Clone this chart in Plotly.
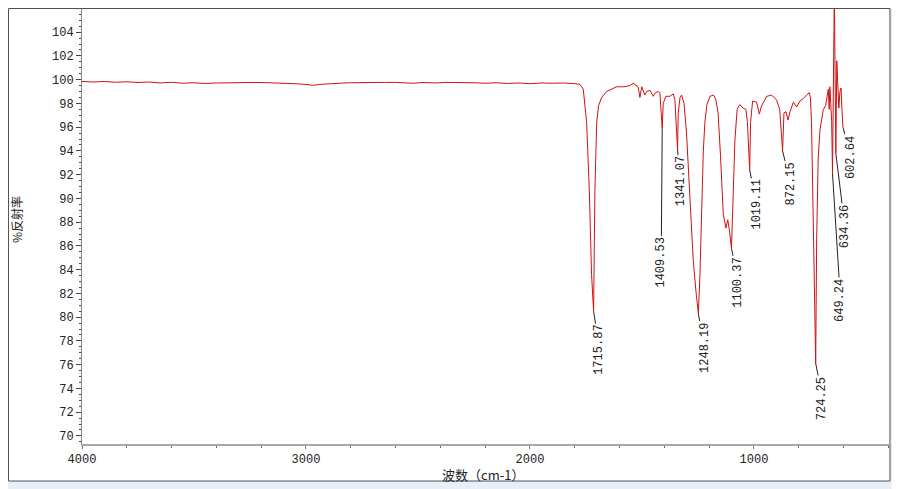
import plotly.graph_objects as go

# IR spectrum (wavenumber in cm-1, % reflectance)
wavenumber = [
    4000, 3950, 3900, 3850, 3800, 3750, 3700, 3650, 3600, 3550, 3500, 3450,
    3400, 3350, 3300, 3250, 3200, 3150, 3100, 3050, 3000, 2970, 2940, 2900,
    2850, 2800, 2750, 2700, 2650, 2600, 2550, 2520, 2480, 2420, 2380, 2300,
    2250, 2200, 2150, 2100, 2050, 2000, 1950, 1900, 1850, 1800, 1777, 1762,
    1747, 1735, 1725, 1715.87, 1713, 1710, 1702, 1694, 1680, 1658, 1613, 1580,
    1554, 1539, 1517, 1509, 1501, 1487, 1479, 1464, 1450, 1440, 1427, 1420,
    1414, 1409.53, 1405, 1393, 1375, 1360, 1353, 1347, 1341.07, 1338, 1330, 1323,
    1312, 1301, 1286, 1271, 1259, 1248.19, 1241, 1233, 1226, 1219, 1210, 1196,
    1180, 1170, 1160, 1149, 1137, 1125, 1117, 1110, 1100.37, 1092, 1085, 1075,
    1063, 1048, 1036, 1029, 1019.11, 1015, 1006, 988, 976, 966, 943, 921,
    899, 885, 877, 872.15, 866, 857, 848, 839, 824, 809, 795, 780,
    765, 753, 748, 743, 735, 728, 724.25, 720, 713, 705, 690, 680,
    672, 668, 664, 661, 657, 653, 649.24, 645, 641, 637, 634.36, 630,
    625, 621, 616, 611, 607, 602.64,
]
reflectance = [
    99.85, 99.80, 99.85, 99.78, 99.82, 99.76, 99.80, 99.72, 99.78, 99.70, 99.74, 99.68,
    99.72, 99.75, 99.76, 99.76, 99.76, 99.74, 99.70, 99.66, 99.60, 99.52, 99.60, 99.66,
    99.70, 99.74, 99.76, 99.80, 99.77, 99.77, 99.76, 99.70, 99.76, 99.72, 99.77, 99.77,
    99.74, 99.70, 99.74, 99.68, 99.72, 99.66, 99.72, 99.70, 99.72, 99.66, 99.6, 99.2,
    96.4, 90.7, 83.6, 80.5, 84.5, 90.7, 96.4, 97.8, 98.5, 99.0, 99.4, 99.4,
    99.5, 99.7, 99.4, 98.5, 99.4, 98.7, 99.0, 99.1, 98.6, 98.9, 99.0, 98.9,
    97.2, 95.9, 98.0, 98.6, 98.6, 98.8, 98.3, 96.4, 94.1, 97.2, 98.5, 98.7,
    98.0, 95.5, 89.9, 84.8, 82.2, 80.3, 83.6, 90.0, 94.0, 96.4, 97.9, 98.6,
    98.7, 98.3, 97.2, 93.5, 88.7, 87.5, 88.2, 87.4, 85.8, 90.7, 94.9, 97.5,
    97.9, 97.6, 97.5, 96.4, 92.4, 96.4, 98.2, 98.1, 97.1, 97.8, 98.6, 98.7,
    98.3, 97.5, 95.5, 94.0, 97.2, 97.3, 96.6, 97.3, 98.1, 97.7, 98.2, 98.4,
    98.7, 98.9, 98.5, 96.4, 88.0, 78.5, 76.1, 86.5, 93.5, 95.8, 97.5, 97.8,
    98.6, 99.2, 97.5, 99.4, 98.0, 96.5, 92.1, 100.5, 107.5, 99.0, 93.8, 101.6,
    99.0, 97.6, 99.0, 99.3, 97.5, 96.0,
]

# labelled peaks
peak_wn = [1715.87, 1409.53, 1341.07, 1248.19, 1100.37, 1019.11,
           872.15, 724.25, 649.24, 634.36, 602.64]
peak_val = [80.5, 95.9, 94.1, 80.3, 85.8, 92.4, 94.0, 76.1, 92.1, 93.8, 96.0]
# label offsets from the peak, in pixels
label_dx = [6, -1, 3, 6, 7, 7, 8, 7, 8, 9, 8]
label_dy = [39, 134, 32, 34, 34, 35, 33, 35, 127, 73, 30]

num_font = "Liberation Mono, Noto Sans CJK SC"

fig = go.Figure()
fig.add_trace(go.Scatter(
    x=wavenumber, y=reflectance, mode="lines",
    line=dict(color="#d01010", width=1), showlegend=False,
))

for wn, val, dx, dy in zip(peak_wn, peak_val, label_dx, label_dy):
    fig.add_annotation(
        x=wn, y=val, text=f"{wn:.2f}", textangle=-90,
        showarrow=True, arrowhead=0, arrowwidth=1, arrowcolor="#222",
        ax=dx, ay=dy, font=dict(family=num_font, size=12, color="#222"),
    )

# axis titles
fig.add_annotation(
    xref="paper", yref="paper", x=-0.0805, y=0.515, text="%反射率",
    xanchor="center", yanchor="middle", textangle=-90, showarrow=False,
    borderpad=0, font=dict(family="Noto Sans CJK SC", size=12, color="#222"),
)
fig.add_annotation(
    xref="paper", yref="paper", x=0.497, y=-0.069, text="波数（cm-1）",
    xanchor="center", yanchor="middle", showarrow=False,
    borderpad=0, font=dict(family="Noto Sans CJK SC", size=13, color="#222"),
)

# white panel with frame
fig.add_shape(
    type="rect", xref="paper", yref="paper",
    x0=-0.0911, x1=1.0012, y0=-0.0851, y1=1.0011,
    fillcolor="white", line=dict(color="#505050", width=1), layer="below",
)

fig.update_xaxes(
    range=[4000, 397], tick0=0, dtick=1000, ticks="outside", ticklen=3,
    tickcolor="#777", showline=True, linecolor="#a8a8a8", linewidth=2,
    showgrid=False, zeroline=False, automargin=False,
    minor=dict(dtick=200, ticks="outside", ticklen=2, tickcolor="#666"),
    tickfont=dict(family=num_font, size=12, color="#222"),
)
fig.update_yaxes(
    range=[69.32, 105.95], tick0=0, dtick=2, ticks="outside", ticklen=5,
    tickcolor="#444", showline=True, linecolor="#888", linewidth=1,
    showgrid=False, zeroline=False, automargin=False,
    minor=dict(dtick=0.5, ticks="outside", ticklen=2, tickcolor="#444"),
    tickfont=dict(family=num_font, size=12, color="#222"),
)

# the page puts the figure 8px in from the top-left corner
fig.update_layout(
    width=892, height=481,
    margin=dict(l=74, r=11, t=1, b=45, autoexpand=False),
    paper_bgcolor="#e9eff8", plot_bgcolor="white",
)

fig.write_html("out.html")
